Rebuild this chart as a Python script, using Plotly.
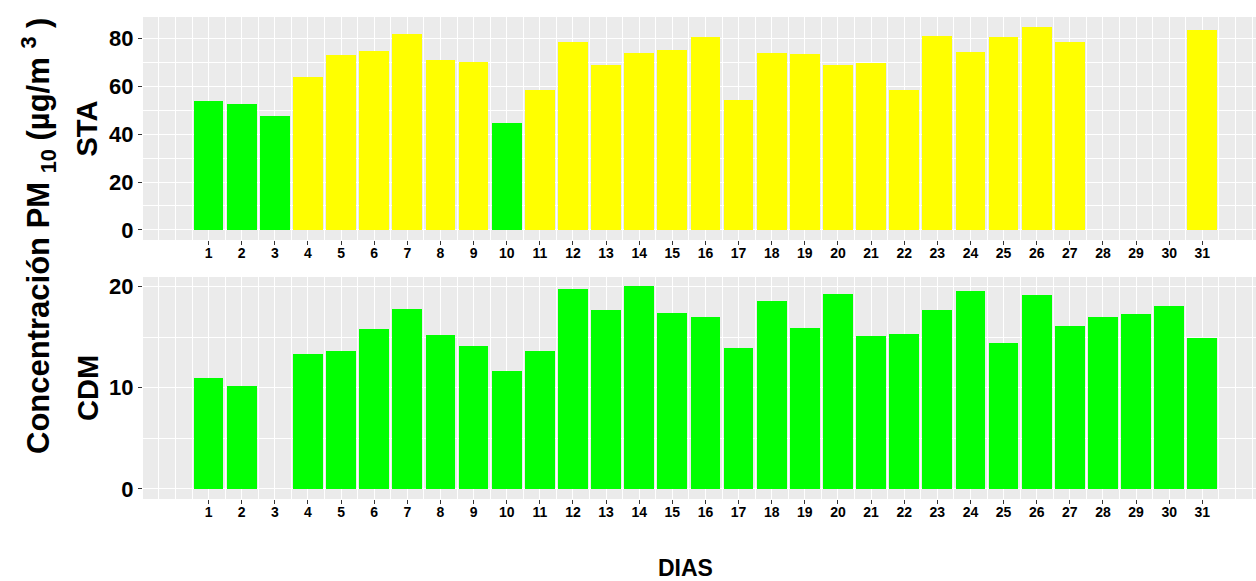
import plotly.graph_objs as go

dias = list(range(1, 32))

sta = [53.7, 52.5, 47.7, 63.8, 73.0, 74.8, 82.1, 71.1, 70.1, 44.8,
       58.6, 78.5, 69.0, 74.1, 75.1, 80.6, 54.3, 74.1, 73.7, 68.8,
       69.7, 58.6, 81.1, 74.4, 80.6, 84.8, 78.6, None, None, None, 83.6]

# categoria de cada dia en STA (B = bajo, A = alto)
sta_cat = ["B", "B", "B", "A", "A", "A", "A", "A", "A", "B",
           "A", "A", "A", "A", "A", "A", "A", "A", "A", "A",
           "A", "A", "A", "A", "A", "A", "A", "A", "A", "A", "A"]

cdm = [11.0, 10.2, None, 13.3, 13.6, 15.8, 17.8, 15.2, 14.1, 11.6,
       13.6, 19.7, 17.7, 20.0, 17.4, 17.0, 13.9, 18.6, 15.9, 19.3,
       15.1, 15.3, 17.7, 19.5, 14.4, 19.2, 16.1, 17.0, 17.3, 18.1, 14.9]

W, H = 1256, 581
L, T, B = 143, 17, 82
plot_h = H - T - B


def py(pix):
    # pixel row -> paper fraction
    return (H - B - pix) / plot_h


def px(pix):
    return (pix - L) / (W - L)


FONT = "Liberation Sans, Arial, sans-serif"
colores = {"B": "#00FF00", "A": "#FFFF00"}

fig = go.Figure()
fig.add_trace(go.Bar(x=dias, y=sta, width=0.9,
                     marker=dict(color=[colores[c] for c in sta_cat], line=dict(width=0)),
                     xaxis="x", yaxis="y", showlegend=False))
fig.add_trace(go.Bar(x=dias, y=cdm, width=0.9, marker=dict(color="#00FF00", line=dict(width=0)),
                     xaxis="x2", yaxis="y2", showlegend=False))


def xaxis_cfg(anchor):
    return dict(
        range=[-0.98, 32.62], anchor=anchor, domain=[0, 1],
        tickvals=dias, ticktext=[str(d) for d in dias],
        ticks="outside", ticklen=4, tickwidth=1, tickcolor="#333333",
        tickfont=dict(family=FONT, size=14, color="black", weight="bold"),
        ticklabelstandoff=-4,
        showgrid=True, gridcolor="white", gridwidth=1.3, zeroline=False,
        showline=False, fixedrange=True,
        minor=dict(dtick=0.5, tick0=0, showgrid=True, gridcolor="white", gridwidth=0.6, ticklen=0),
    )


def yaxis_cfg(anchor, dom, rng, dtick):
    return dict(
        range=rng, anchor=anchor, domain=dom, dtick=dtick, tick0=0,
        ticks="outside", ticklen=4, tickwidth=1, tickcolor="#333333",
        tickfont=dict(family=FONT, size=22, color="black", weight="bold"),
        showgrid=True, gridcolor="white", gridwidth=1.3, zeroline=False,
        showline=False, fixedrange=True,
        minor=dict(dtick=dtick / 2, tick0=0, showgrid=True, gridcolor="white", gridwidth=0.6, ticklen=0),
    )


annotations = [
    dict(text="STA", x=px(87), y=py(128.5), textangle=-90),
    dict(text="CDM", x=px(88), y=py(388), textangle=-90),
    dict(text="Concentración PM <sub>10</sub> (µg/m <sup>3</sup> )", x=px(38), y=py(236),
         textangle=-90, font=dict(family=FONT, size=31, color="black", weight="bold")),
    dict(text="DIAS", x=px(685), y=py(568), font=dict(family=FONT, size=23, color="black", weight="bold")),
]
for a in annotations:
    a.update(xref="paper", yref="paper", showarrow=False, xanchor="center", yanchor="middle")
    a.setdefault("font", dict(family=FONT, size=29, color="black", weight="bold"))

fig.update_layout(
    width=W, height=H,
    margin=dict(l=L, r=0, t=T, b=B, pad=0),
    paper_bgcolor="white", plot_bgcolor="#EBEBEB",
    bargap=0,
    xaxis=xaxis_cfg("y"),
    yaxis=yaxis_cfg("x", [py(240), 1], [-4.24, 89.0], 20),
    xaxis2=xaxis_cfg("y2"),
    yaxis2=yaxis_cfg("x2", [0, py(277)], [-1.0, 20.93], 10),
    annotations=annotations,
)

fig.write_html("out.html", config={"displayModeBar": False},
               post_script="document.body.style.margin='0';document.body.style.overflow='hidden';")
